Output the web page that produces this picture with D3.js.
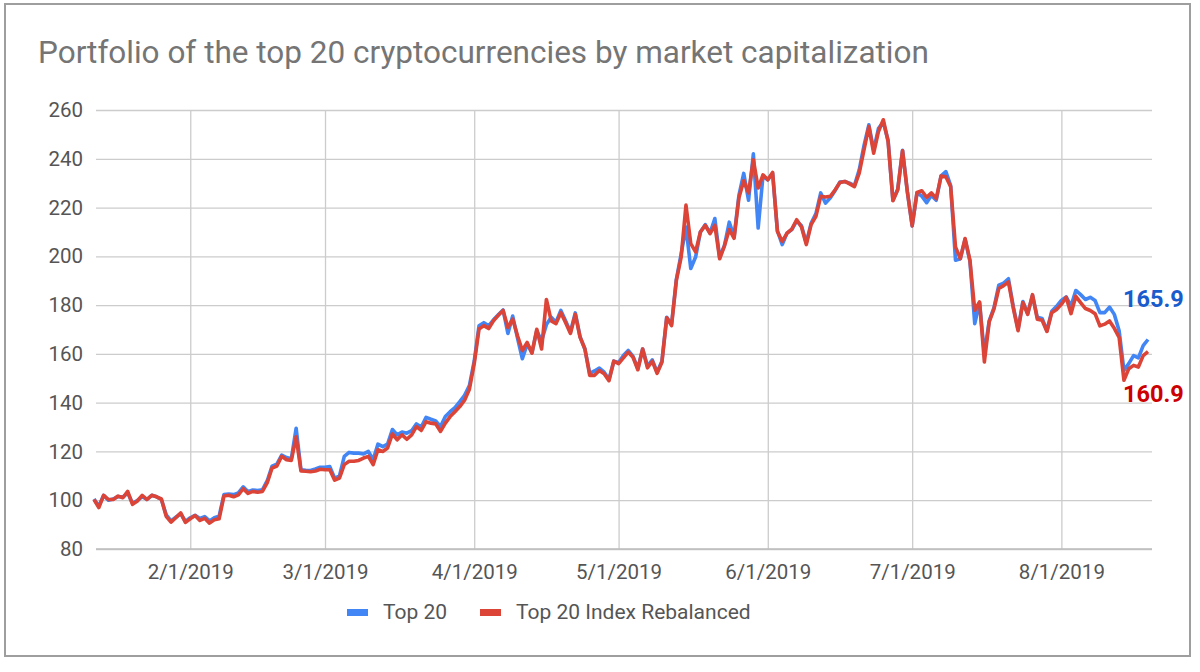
<!DOCTYPE html>
<html>
<head>
<meta charset="utf-8">
<script src="https://cdn.jsdelivr.net/npm/d3@7"></script>
<style>
  body { margin: 0; background: #fff; }
  text { font-family: Roboto, "Noto Sans", sans-serif; }
</style>
</head>
<body>
<script>
// daily values, first day 2019-01-12, last day 2019-08-19
var startDay = "2019-01-12";

var top20 = [
  // Jan 12-31
  100.5, 97.5, 102, 100, 100.5, 101.5, 101.3, 103, 98.8, 99.8, 101.5, 100.3, 102, 101.4, 100.3, 94, 91.5, 93, 94.5, 91.3,
  // Feb
  92.8, 93.8, 92.5, 93.3, 91.5, 92.8, 93.5, 102.3, 102.5, 102.3, 103, 105.5, 103.5, 104.2, 104, 104.3, 108, 114, 114.8, 118.5, 117.5, 117, 129.5, 112.5, 112.3, 112.2, 112.8, 113.5,
  // Mar
  113.5, 113.8, 109, 110, 118, 119.6, 119.3, 119.3, 119, 120, 116.6, 123, 122, 123, 129, 126.8, 128, 127.5, 128.5, 131.3, 130, 134, 133.2, 132.5, 130.2, 134.3, 136.3, 138, 140.4, 143, 147,
  // Apr
  157, 171.5, 172.8, 171.5, 174, 176, 178, 168.4, 175.5, 166.5, 158, 164, 160.5, 169.5, 165.4, 172, 175, 173, 177.8, 173.5, 169, 176.8, 167, 162, 152, 153, 154.2, 152.5, 149.5, 157,
  // May
  156.5, 159.3, 161.4, 159, 154, 162, 155, 157.5, 152.5, 157, 175, 172, 190.5, 201, 212, 195, 199.7, 210, 213, 209.5, 215.5, 199.5, 204.5, 214, 208, 225, 234, 223, 242, 211.6, 233,
  // Jun
  231.4, 234, 210.5, 204.8, 209.5, 211, 214.5, 212.5, 205.5, 213.5, 217.5, 226, 221.8, 224, 227, 230.5, 230.7, 230, 229, 235.5, 245.5, 253.9, 243.5, 252.5, 255, 247.5, 223, 227.5, 243.5, 226.5,
  // Jul
  212.5, 226, 224.7, 222, 225, 223, 233, 234.7, 229, 198.4, 199, 207, 198, 172.4, 181, 160, 173.5, 179, 188.2, 189, 190.8, 179.5, 170, 181.5, 176.5, 184, 175, 174.5, 169.5, 177.5, 179.5,
  // Aug 1-19
  181.9, 183.4, 179.6, 186, 184.3, 182.3, 183.2, 181.9, 176.9, 176.9, 179.2, 176.2, 169.5, 153.2, 156, 159.3, 158.4, 163.4, 165.9
];

var rebalanced = [
  // Jan 12-31
  100.3, 97, 102, 100.3, 100.3, 101.7, 101, 103.6, 98.3, 99.7, 102, 100.3, 102, 101.4, 100.5, 93.4, 91, 92.8, 94.8, 90.9,
  // Feb
  92.4, 93.7, 91.7, 92.6, 90.6, 92, 92.4, 101.7, 102, 101.4, 102.2, 104.7, 102.8, 103.6, 103.3, 103.6, 107.2, 113.2, 114, 118, 116.6, 116.3, 126, 112, 111.9, 111.7, 112, 112.7,
  // Mar
  112.5, 112.5, 108.2, 109.1, 114.6, 116, 116, 116.3, 117.3, 118, 114.6, 120.7, 120, 121.4, 127.2, 124.8, 126.8, 125, 126.8, 130.2, 128.6, 132.2, 131.6, 131.3, 128.2, 131.6, 134.3, 136.3, 138.4, 141, 145.5,
  // Apr
  156, 170.2, 171.6, 170.4, 173.6, 175.8, 177.8, 170.8, 174.2, 167.4, 161.4, 164.7, 160.3, 170.1, 162, 182.3, 173.5, 172.4, 176.9, 172.8, 168.4, 176.2, 166.8, 162, 151.2, 151.2, 153.2, 151.9, 149, 157,
  // May
  156, 158.4, 160.7, 158.6, 153.5, 162, 154.3, 157, 152, 156.6, 174.8, 171.6, 190.1, 199.7, 221, 205.2, 201.8, 210, 212.7, 209.3, 212.7, 199, 204.3, 211, 207.4, 224, 231, 226, 239.6, 228, 233.4,
  // Jun
  231.4, 234.4, 210.2, 206.1, 209.5, 211.2, 215, 212, 204.8, 213, 216.4, 224.6, 224.3, 224.6, 227.3, 230.3, 230.7, 229.7, 228.6, 234.1, 243.7, 253.2, 242.3, 251.2, 256, 247, 222.8, 227.3, 243.3, 226.5,
  // Jul
  212.5, 226.2, 226.9, 224.2, 226, 223.7, 232.9, 232.6, 228.5, 203.9, 199.1, 207.3, 198.4, 177.9, 181.3, 156.7, 173.1, 178.5, 186.8, 188, 189.5, 178.9, 169.5, 181, 176.2, 184.3, 174.2, 173.8, 169.2, 176.9, 178.2,
  // Aug 1-19
  180.3, 183.2, 176.5, 183.6, 181, 178.6, 177.8, 176.5, 171.5, 172.2, 173.5, 170.5, 166.8, 149.2, 153.9, 155.3, 154.6, 159.3, 160.9
];

var yTicks = [80, 100, 120, 140, 160, 180, 200, 220, 240, 260];
var seriesNames = ["Top 20", "Top 20 Index Rebalanced"];
var seriesColors = ["#4285f4", "#db4437"];
var labelColors = ["#1a5ccc", "#cc0000"];
var title = "Portfolio of the top 20 cryptocurrencies by market capitalization";

var width = 1200, height = 672;
var plot = {left: 94, right: 1148, gridRight: 1152, top: 110, bottom: 549};

var parseDay = d3.timeParse("%Y-%m-%d");
var day0 = parseDay(startDay);
var dates = top20.map(function(v, i) { return d3.timeDay.offset(day0, i); });

var x = d3.scaleTime()
    .domain([dates[0], dates[dates.length - 1]])
    .range([plot.left, plot.right]);

var y = d3.scaleLinear()
    .domain([80, 260])
    .range([plot.bottom, plot.top]);

var svg = d3.select("body").append("svg")
    .attr("width", width)
    .attr("height", height);

// outer frame
svg.append("rect")
    .attr("x", 5).attr("y", 4)
    .attr("width", 1185).attr("height", 652)
    .attr("fill", "#fff")
    .attr("stroke", "#9e9e9e")
    .attr("stroke-width", 2);

svg.append("text")
    .attr("x", 38).attr("y", 63)
    .attr("fill", "#757575")
    .style("font-size", "31.5px")
    .text(title);

// horizontal grid + y labels
var yAxis = svg.append("g")
    .attr("transform", "translate(" + (plot.left + 2) + ",0)")
    .call(d3.axisLeft(y).tickValues(yTicks).tickSize(-(plot.gridRight - plot.left - 2)).tickPadding(13));
yAxis.select(".domain").remove();
yAxis.selectAll(".tick line").attr("stroke", "#cccccc").attr("stroke-width", 1.3);
yAxis.selectAll(".tick text")
    .attr("fill", "#555")
    .style("font-size", "20.5px")
    .style("font-family", "Roboto, sans-serif");

// vertical grid + x labels
var months = d3.timeMonth.range(d3.timeMonth.ceil(dates[0]), dates[dates.length - 1]);
var xAxis = svg.append("g")
    .attr("transform", "translate(0," + plot.bottom + ")")
    .call(d3.axisBottom(x).tickValues(months).tickFormat(d3.timeFormat("%-m/%-d/%Y"))
        .tickSize(-(plot.bottom - plot.top)).tickPadding(15));
xAxis.select(".domain").remove();
xAxis.selectAll(".tick line").attr("stroke", "#cccccc").attr("stroke-width", 1.3);
xAxis.selectAll(".tick text")
    .attr("fill", "#555")
    .style("font-size", "20.5px")
    .style("font-family", "Roboto, sans-serif");

// baseline
svg.append("line")
    .attr("x1", plot.left + 2).attr("x2", plot.gridRight)
    .attr("y1", y(80)).attr("y2", y(80))
    .attr("stroke", "#bdbdbd").attr("stroke-width", 1.5);

var line = d3.line()
    .x(function(d, i) { return x(dates[i]); })
    .y(function(d) { return y(d); });

[top20, rebalanced].forEach(function(s, k) {
  svg.append("path")
      .datum(s)
      .attr("fill", "none")
      .attr("stroke", seriesColors[k])
      .attr("stroke-width", 3.6)
      .attr("stroke-linejoin", "round")
      .attr("d", line);
});

// end value labels
var lastDate = dates[dates.length - 1];
svg.append("text")
    .attr("x", x(lastDate) - 25)
    .attr("y", y(top20[top20.length - 1]) - 32)
    .attr("fill", labelColors[0])
    .style("font-size", "23.5px").style("font-weight", "bold")
    .text(d3.format(".1f")(top20[top20.length - 1]));
svg.append("text")
    .attr("x", x(lastDate) - 25)
    .attr("y", y(rebalanced[rebalanced.length - 1]) + 50)
    .attr("fill", labelColors[1])
    .style("font-size", "23.5px").style("font-weight", "bold")
    .text(d3.format(".1f")(rebalanced[rebalanced.length - 1]));

// legend
var legendX = [347, 480];
var legend = svg.selectAll(".legend")
    .data(seriesNames)
  .enter().append("g")
    .attr("class", "legend")
    .attr("transform", function(d, i) { return "translate(" + legendX[i] + ",612)"; });
legend.append("rect")
    .attr("x", 0).attr("y", -3)
    .attr("width", 21).attr("height", 7)
    .attr("fill", function(d, i) { return seriesColors[i]; });
legend.append("text")
    .attr("x", 36).attr("y", 7)
    .attr("fill", "#555")
    .style("font-size", "21px")
    .text(function(d) { return d; });
</script>
</body>
</html>
